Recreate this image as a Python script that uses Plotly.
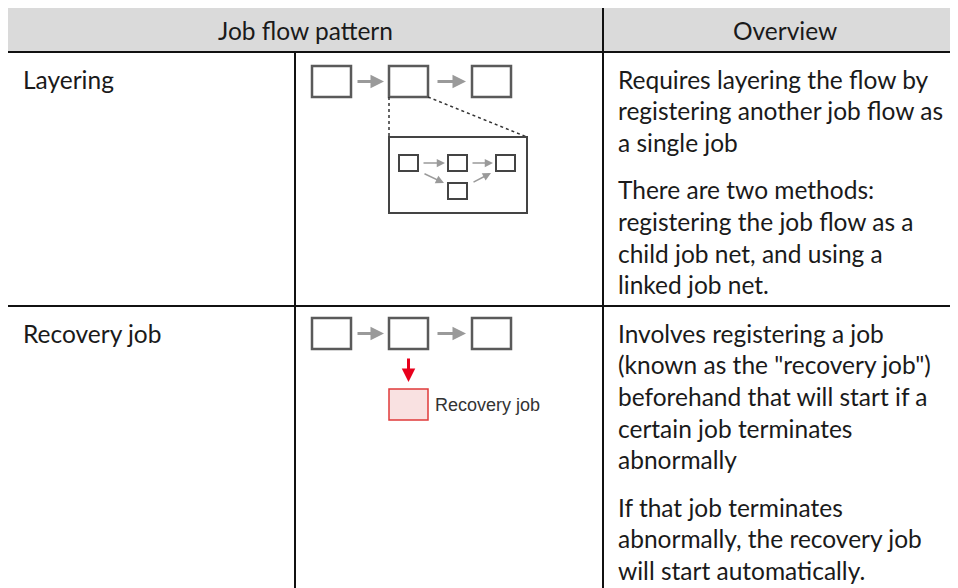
import plotly.graph_objects as go

# ---- table content ----
headers = ["Job flow pattern", "Overview"]
patterns = ["Layering", "Recovery job"]
overview = [
    [["Requires layering the flow by", "registering another job flow as", "a single job"],
     ["There are two methods:", "registering the job flow as a", "child job net, and using a", "linked job net."]],
    [["Involves registering a job", "(known as the \"recovery job\")", "beforehand that will start if a",
      "certain job terminates", "abnormally"],
     ["If that job terminates", "abnormally, the recovery job", "will start automatically."]],
]
diagram_label = "Recovery job"

# ---- layout constants ----
W, H = 958, 588
OFF = 8  # page body margin
X0, X1, X2, XR = 7, 295, 603, 975
Y0, YH, YR1, YB = 7, 52, 306, 610
row_tops = [YH, YR1]
FONT = "Lato"
FS = 24.5
LH = 31.7
PGAP = 15.5
TXT = "#1a1a1a"

shapes = []
ann = []

# header fill
shapes.append(dict(type="rect", x0=X0, x1=XR, y0=Y0, y1=YH, fillcolor="#dadada", line_width=0, layer="below"))
# grid lines
def hline(y, xa, xb, w=2):
    shapes.append(dict(type="line", x0=xa, x1=xb, y0=y, y1=y, line=dict(color="#111", width=w)))
def vline(x, ya, yb, w=2):
    shapes.append(dict(type="line", x0=x, x1=x, y0=ya, y1=yb, line=dict(color="#111", width=w)))
hline(Y0, X0 - 1, XR)
hline(YH, X0 - 1, XR)
hline(YR1, X0 - 1, XR)
vline(X0, Y0 - 1, YB)
vline(X1, YH, YB)
vline(X2, Y0 - 1, YB)

# header text
ann.append(dict(x=(X0 + X2) / 2, y=(Y0 + YH) / 2 + 1, text=headers[0], showarrow=False,
                font=dict(family=FONT, size=FS, color=TXT), xanchor="center", yanchor="middle"))
ann.append(dict(x=(X2 + XR) / 2 - 4, y=(Y0 + YH) / 2 + 1, text=headers[1], showarrow=False,
                font=dict(family=FONT, size=FS, color=TXT), xanchor="center", yanchor="middle"))

# body text
for i, top in enumerate(row_tops):
    first = top + 27
    ann.append(dict(x=X0 + 14, y=first, text=patterns[i], showarrow=False,
                    font=dict(family=FONT, size=FS, color=TXT), xanchor="left", yanchor="middle"))
    y = first
    for p, para in enumerate(overview[i]):
        for line in para:
            ann.append(dict(x=X2 + 13, y=y, text=line, showarrow=False,
                            font=dict(family=FONT, size=FS, color=TXT), xanchor="left", yanchor="middle"))
            y += LH
        y += PGAP

# ---- diagrams ----
BOX = "#5a5a5a"
ARR = "#9a9a9a"

def box(x, y, w, h, lw=2.5, color=BOX, fill="white"):
    shapes.append(dict(type="rect", x0=x, x1=x + w, y0=y, y1=y + h,
                       line=dict(color=color, width=lw), fillcolor=fill))

def arrow(xa, ya, xb, yb, color=ARR, w=3, size=0.9, head=2):
    ann.append(dict(x=xb, y=yb, ax=xa, ay=ya, xref="x", yref="y", axref="x", ayref="y",
                    showarrow=True, arrowhead=head, arrowsize=size, arrowwidth=w,
                    arrowcolor=color, text=""))

def job_chain(top):
    bx = [312, 389, 472]
    bw, bh = 39, 31
    for x in bx:
        box(x, top, bw, bh)
    cy = top + bh / 2
    arrow(bx[0] + bw + 5, cy, bx[1] - 5, cy)
    arrow(bx[1] + bw + 8, cy, bx[2] - 6, cy)
    return bx, bw, bh

# layering diagram
t1 = YH + 14
bx, bw, bh = job_chain(t1)
big_top, big_bot, big_right = t1 + 71, t1 + 147, 527
shapes.append(dict(type="line", x0=bx[1], x1=bx[1], y0=t1 + bh, y1=big_top,
                   line=dict(color="#333", width=1.5, dash="dot")))
shapes.append(dict(type="line", x0=bx[1] + bw, x1=big_right, y0=t1 + bh, y1=big_top,
                   line=dict(color="#333", width=1.5, dash="dot")))
box(bx[1], big_top, big_right - bx[1], big_bot - big_top, lw=2, color="#444")
sw, sh = 19, 16
sy = big_top + 18
sx = [399, 448, 496]
for x in sx:
    box(x, sy, sw, sh, lw=2, color="#444")
box(sx[1], sy + 28, sw, sh, lw=2, color="#444")
arrow(sx[0] + sw + 4, sy + sh / 2, sx[1] - 3, sy + sh / 2, w=1.5, size=1.1)
arrow(sx[1] + sw + 4, sy + sh / 2, sx[2] - 3, sy + sh / 2, w=1.5, size=1.1)
arrow(sx[0] + sw + 5, sy + sh + 2, sx[1] - 4, sy + 28, w=1.5, size=1.1)
arrow(sx[1] + sw + 5, sy + 28, sx[2] - 5, sy + sh + 2, w=1.5, size=1.1)

# recovery diagram
t2 = YR1 + 12
bx, bw, bh = job_chain(t2)
arrow(bx[1] + bw / 2, t2 + bh + 8, bx[1] + bw / 2, t2 + bh + 33, color="#e8001c", w=3, size=0.9)
box(bx[1], t2 + 71, bw, bh, lw=1.5, color="#e03a3a", fill="#f9e1e1")
ann.append(dict(x=bx[1] + bw + 5, y=t2 + 71 + bh / 2, text=diagram_label, showarrow=False,
                font=dict(family="Liberation Sans", size=18, color="#333"), xanchor="left", yanchor="middle"))

fig = go.Figure()
fig.update_layout(
    width=W, height=H, margin=dict(l=0, r=0, t=0, b=0),
    paper_bgcolor="white", plot_bgcolor="white",
    xaxis=dict(range=[OFF, W + OFF], visible=False, fixedrange=True),
    yaxis=dict(range=[H + OFF, OFF], visible=False, fixedrange=True),
    shapes=shapes, annotations=ann, showlegend=False,
)
fig.write_html("out.html")
